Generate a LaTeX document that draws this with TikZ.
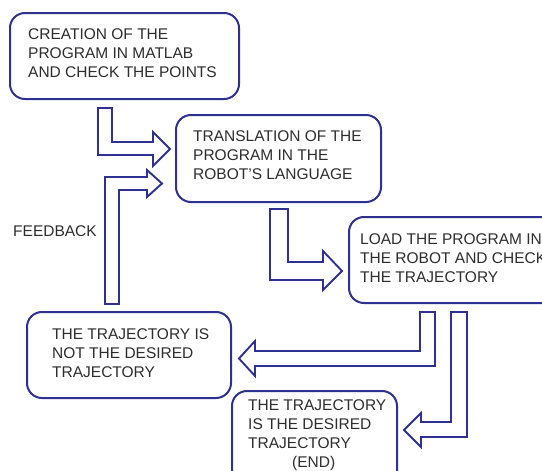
\documentclass[tikz,border=0pt]{standalone}
\usepackage{fontspec}
\setmainfont{Liberation Sans}
\definecolor{navy}{RGB}{46,49,146}
\definecolor{txtgray}{RGB}{45,45,45}
\tikzset{
  box/.style={draw=navy, line width=2pt, rounded corners=15pt, fill=white, inner sep=0pt},
  txt/.style={text=txtgray, align=left, inner sep=0pt, anchor=base west,
    font=\fontsize{15.5}{19}\selectfont},
  blockarrow/.style={draw=navy, line width=1.9pt, fill=white, line join=miter}
}
\begin{document}
\begin{tikzpicture}[x=1pt,y=-1pt]
\clip (0,0) rectangle (542,471);
\fill[white] (0,0) rectangle (542,471);
% boxes
\node[box, minimum width=229pt, minimum height=86pt] (b1) at (124.5,56) {};
\node[box, minimum width=205pt, minimum height=87pt] (b2) at (278.5,158.5) {};
\node[box, minimum width=215pt, minimum height=86pt] (b3) at (456.5,260) {};
\node[box, minimum width=204pt, minimum height=86pt] (b4) at (129,355) {};
\node[box, minimum width=165pt, minimum height=95pt] (b5) at (314.5,438.5) {};
% texts (anchor = baseline of the last line)
\node[txt] (t1) at (28,77.5) {CREATION OF THE\\PROGRAM IN MATLAB\\AND CHECK THE POINTS};
\node[txt] (t2) at (193,179.5) {TRANSLATION OF THE\\PROGRAM IN THE\\ROBOT'S LANGUAGE};
\node[txt] (t3) at (360,282.5) {LOAD THE PROGRAM IN\\THE ROBOT AND CHECK\\THE TRAJECTORY};
\node[txt] (t4) at (52,377.5) {THE TRAJECTORY IS\\NOT THE DESIRED\\TRAJECTORY};
\node[txt] (t5) at (248,467.5) {THE TRAJECTORY\\IS THE DESIRED\\TRAJECTORY\\\hspace*{44pt}(END)};
\node[txt] (fb) at (13,236.5) {FEEDBACK};
% block arrows
\draw[blockarrow] (98,108) -- (112,108) -- (112,142) -- (153,142) -- (153,132) -- (170,149)
  -- (153,166) -- (153,155) -- (98,155) -- cycle;
\draw[blockarrow] (105,304) -- (105,177) -- (147,177) -- (147,170) -- (162,183.5)
  -- (147,197) -- (147,190) -- (119,190) -- (119,304) -- cycle;
\draw[blockarrow] (270,209) -- (288,209) -- (288,262) -- (323,262) -- (323,251) -- (342,271)
  -- (323,290) -- (323,280) -- (270,280) -- cycle;
\draw[blockarrow] (420,312) -- (435,312) -- (435,366) -- (255,366) -- (255,376) -- (239,358.5)
  -- (255,341) -- (255,351) -- (420,351) -- cycle;
\draw[blockarrow] (451,312) -- (467,312) -- (467,437) -- (421,437) -- (421,447) -- (404,430)
  -- (421,413) -- (421,422) -- (451,422) -- cycle;
\end{tikzpicture}
\end{document}
